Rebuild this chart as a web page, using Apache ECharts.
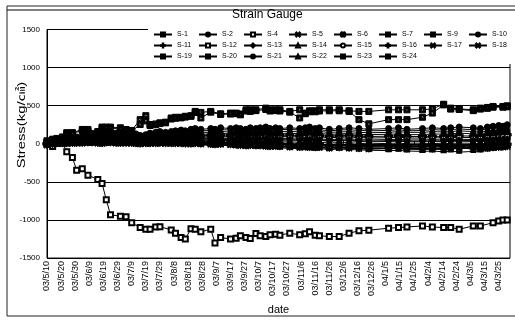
<!DOCTYPE html>
<html>
<head>
<meta charset="utf-8">
<script src="https://cdn.jsdelivr.net/npm/echarts@6/dist/echarts.min.js"></script>
<style>
  html, body { margin: 0; padding: 0; background: #fff; }
  #chart { width: 515px; height: 320px; }
</style>
</head>
<body>
<div id="chart"></div>
<script>
// Reading dates shared by every gauge
const readingDates = [
  '2003-05-10','2003-05-14','2003-05-17','2003-05-21','2003-05-24','2003-05-28','2003-05-31','2003-06-04',
  '2003-06-08','2003-06-11','2003-06-15','2003-06-18','2003-06-21','2003-06-24','2003-06-28','2003-07-01',
  '2003-07-05','2003-07-09','2003-07-12','2003-07-15','2003-07-19','2003-07-22','2003-07-26','2003-07-29',
  '2003-08-02','2003-08-06','2003-08-09','2003-08-13','2003-08-16','2003-08-20','2003-08-23','2003-08-27',
  '2003-09-03','2003-09-06','2003-09-10','2003-09-17','2003-09-21','2003-09-24','2003-09-28','2003-10-01',
  '2003-10-05','2003-10-08','2003-10-12','2003-10-15','2003-10-19','2003-10-22','2003-10-29','2003-11-05',
  '2003-11-09','2003-11-12','2003-11-16','2003-11-19','2003-11-26','2003-12-03','2003-12-10','2003-12-17',
  '2003-12-24','2004-01-07','2004-01-14','2004-01-20','2004-01-31','2004-02-07','2004-02-15','2004-02-20',
  '2004-02-26','2004-03-07','2004-03-12','2004-03-17','2004-03-21','2004-03-25','2004-03-28','2004-03-31'
];

// Stress readings (kg/㎠); null = no reading on that date
const s1  = [20,50,60,80,130,140,null,170,175,null,150,200,205,210,null,190,175,165,null,253,300,240,250,265,275,325,335,340,350,360,410,339,415,null,385,390,395,380,430,425,435,null,450,430,435,430,415,339,395,420,420,430,433,433,425,317,262,317,317,317,348,403,510,455,450,435,455,465,480,null,480,485];
const s2  = [20,40,50,40,60,70,80,90,90,100,110,100,120,130,120,110,130,120,110,100,110,120,130,140,130,140,150,160,150,170,180,170,175,170,185,180,190,180,170,185,180,190,195,180,190,185,190,180,190,195,180,185,170,180,185,175,170,175,185,170,175,185,180,185,195,185,180,195,200,210,205,215];
const s4  = [20,-35,30,10,-103,-181,-348,-327,-412,null,-469,-520,-735,-933,null,-950,-959,-1036,null,-1100,-1121,-1121,-1092,-1088,null,-1130,-1173,-1230,-1250,-1114,-1121,-1156,-1121,-1302,-1230,-1250,-1240,-1208,-1230,-1242,-1178,-1208,-1217,-1195,-1186,-1199,-1173,-1195,-1180,-1156,-1199,-1208,-1217,-1217,-1173,-1143,-1134,-1108,-1100,-1092,-1079,-1092,-1100,-1100,-1121,-1079,-1079,null,-1036,-1014,-1001,-1001];
const s5  = [-10,0,0,5,5,10,10,10,15,15,10,5,15,15,10,10,10,10,5,0,5,5,5,10,5,5,5,5,0,0,5,0,-5,-10,-5,-10,-15,-20,-25,-20,-25,-25,-30,-35,-30,-35,-40,-45,-40,-45,-50,-45,-55,-50,-55,-60,-65,-60,-55,-65,-70,-65,-70,-60,-55,-60,-65,-55,-50,-45,-40,-35];
const s6  = [-20,-10,0,0,0,5,5,5,10,10,5,0,10,10,5,5,5,5,0,-5,0,0,0,5,0,0,0,0,-5,-5,0,-5,-10,-15,-10,-15,-20,-25,-30,-25,-30,-30,-35,-40,-35,-40,-45,-50,-45,-50,-55,-50,-60,-55,-60,-65,-70,-65,-60,-70,-75,-70,-75,-65,-60,-65,-70,-60,-55,-50,-45,-40];
const s7  = [40,60,70,90,146,146,null,188,188,null,160,219,219,219,null,210,188,175,null,317,369,253,260,275,284,339,348,348,361,369,425,412,425,null,394,403,403,391,446,446,446,null,468,446,446,446,425,446,403,433,433,446,446,446,433,425,425,446,446,446,446,459,519,468,459,446,468,477,490,null,490,498];
const s9  = [0,20,30,20,30,40,50,50,60,60,70,60,70,80,70,70,80,80,70,60,70,75,80,90,85,90,95,100,95,105,110,105,110,105,115,110,115,110,105,115,110,115,120,110,115,110,115,105,110,115,105,110,100,105,110,100,95,100,105,95,95,100,95,100,105,100,95,105,110,115,115,120];
const s10 = [30,50,60,50,70,80,90,100,110,120,130,120,140,150,140,130,150,150,130,110,120,140,150,160,150,160,170,180,170,190,200,190,200,190,210,200,210,200,190,210,200,210,220,200,210,200,210,200,210,220,200,210,190,200,210,200,190,200,210,190,200,210,200,210,220,210,200,220,230,240,230,250];
const s11 = [0,10,20,20,30,30,35,35,40,40,40,35,45,45,40,40,45,45,40,35,40,40,45,45,40,45,45,50,45,50,50,45,45,40,45,40,40,35,30,35,30,35,35,25,30,25,25,20,25,25,15,20,10,15,15,5,0,5,10,0,0,5,0,5,10,5,0,10,15,20,20,25];
const s12 = [0,10,20,20,30,30,40,40,50,50,55,50,60,65,60,60,65,65,60,55,60,65,70,75,70,75,80,85,80,90,90,85,90,85,95,90,95,90,85,95,90,95,100,90,95,90,95,85,90,95,85,90,80,85,90,80,75,80,85,75,75,80,75,80,85,80,75,85,90,95,95,100];
const s13 = [10,20,20,30,30,40,40,50,45,50,50,45,55,60,55,50,55,55,50,45,50,55,60,60,55,60,65,70,65,70,75,70,75,70,75,70,75,70,65,70,65,70,75,65,70,65,70,60,65,70,60,65,55,60,65,55,50,55,60,50,50,55,50,55,60,55,50,60,65,70,70,75];
const s14 = [0,10,10,15,20,20,25,25,30,30,30,25,30,35,30,25,30,30,25,20,25,25,25,30,25,25,30,30,25,25,30,25,20,15,20,15,15,10,5,10,5,5,5,-5,0,-5,-10,-15,-10,-10,-20,-15,-25,-20,-20,-30,-35,-30,-25,-35,-35,-30,-35,-30,-25,-30,-35,-25,-20,-15,-15,-10];
const s15 = [-10,0,10,10,10,15,15,20,20,20,20,15,20,25,20,15,20,20,15,10,15,15,15,20,15,15,20,20,15,15,20,15,10,5,10,5,5,0,-5,0,-5,-5,-5,-15,-10,-15,-20,-25,-20,-20,-30,-25,-35,-30,-30,-40,-45,-40,-35,-45,-45,-40,-45,-40,-35,-40,-45,-35,-30,-25,-25,-20];
const s16 = [10,30,20,30,40,40,50,50,55,60,60,55,65,70,65,60,65,65,60,55,60,60,65,65,60,65,70,70,65,70,70,65,65,60,65,60,65,60,55,60,55,60,60,50,55,50,50,45,50,50,40,45,35,40,40,30,25,30,35,25,25,30,25,30,35,30,25,35,40,45,45,50];
const s17 = [0,10,10,10,15,15,15,20,20,20,15,10,20,20,15,15,15,15,10,5,10,10,10,15,10,10,10,10,5,5,10,5,0,-5,0,-5,-10,-15,-20,-15,-20,-20,-25,-30,-25,-30,-35,-40,-35,-40,-45,-40,-50,-45,-50,-55,-60,-55,-50,-55,-60,-55,-60,-50,-45,-50,-55,-45,-40,-35,-30,-25];
const s18 = [-5,5,5,10,10,10,15,15,15,20,15,10,15,20,15,10,15,15,10,5,10,10,10,10,5,10,10,5,5,5,5,0,-5,-10,-5,-10,-15,-20,-20,-20,-25,-25,-30,-30,-30,-35,-40,-40,-40,-45,-45,-45,-50,-50,-50,-55,-60,-60,-55,-60,-65,-60,-65,-55,-50,-55,-60,-50,-45,-40,-35,-30];
const s19 = [0,10,10,20,20,25,25,30,30,30,30,25,35,35,30,30,30,30,25,20,25,25,30,30,25,30,30,30,25,30,30,25,25,20,25,20,20,15,10,15,10,15,10,5,10,5,0,-5,0,0,-10,-5,-15,-10,-10,-20,-25,-20,-15,-25,-25,-20,-25,-20,-15,-20,-25,-15,-10,-5,-5,0];
const s20 = [0,0,10,10,15,20,20,25,25,25,25,20,30,30,25,25,25,25,20,15,20,20,25,25,20,25,25,25,20,25,25,20,20,15,20,15,15,10,5,10,5,10,5,0,5,0,-5,-10,-5,-5,-15,-10,-20,-15,-15,-25,-30,-25,-20,-30,-30,-25,-30,-25,-20,-25,-30,-20,-15,-10,-10,-5];
const s21 = [10,30,40,30,50,60,60,70,80,80,90,80,100,110,100,90,110,100,90,80,90,100,110,120,110,120,130,140,130,150,155,150,150,145,160,155,165,155,150,160,155,165,170,155,160,160,165,155,165,170,155,160,150,155,160,150,145,150,160,150,150,160,155,160,170,160,155,170,175,180,180,190];
const s22 = [0,10,20,10,20,30,30,40,40,40,45,40,50,50,45,45,50,50,45,40,45,50,50,55,50,55,60,60,55,60,65,60,60,55,60,55,60,55,50,55,50,55,60,50,55,50,50,45,50,55,45,50,40,45,50,40,35,40,45,35,35,40,35,40,45,40,35,45,50,55,55,60];
const s23 = [10,20,30,40,40,50,60,60,70,70,80,70,90,90,80,80,90,90,80,70,80,90,90,100,100,110,110,120,110,130,130,125,130,125,135,130,140,130,125,135,130,140,145,130,135,135,140,130,140,145,130,135,125,130,135,125,120,125,130,120,120,130,125,130,140,130,125,135,140,145,150,155];
const s24 = [-10,0,0,0,5,5,5,5,10,5,5,0,5,5,0,0,0,0,-5,-10,-5,-5,-5,0,-5,-5,-5,-10,-10,-10,-10,-15,-20,-25,-20,-25,-30,-35,-40,-35,-40,-40,-45,-50,-50,-55,-60,-65,-60,-65,-70,-65,-75,-70,-75,-80,-85,-90,-85,-95,-100,-95,-105,-95,-110,-100,-95,-80,-70,-60,-55,-45];

const gaugeNames = ['S-1','S-2','S-4','S-5','S-6','S-7','S-9','S-10','S-11','S-12','S-13','S-14',
                    'S-15','S-16','S-17','S-18','S-19','S-20','S-21','S-22','S-23','S-24'];
const gaugeValues = [s1,s2,s4,s5,s6,s7,s9,s10,s11,s12,s13,s14,s15,s16,s17,s18,s19,s20,s21,s22,s23,s24];

const yTicks = { min: -1500, max: 1500, step: 500 };

// Marker shapes (black on a white chart)
const boxPlus  = 'path://M0,0H10V10H0Z M4,2V4H2V6H4V8H6V6H8V4H6V2Z';
const boxHole  = 'path://M0,0H10V10H0Z M3,3V7H7V3Z';
const plus     = 'path://M4,0H6V4H10V6H6V10H4V6H0V4H4Z';
const thinPlus = 'path://M4.5,0H5.5V4.5H10V5.5H5.5V10H4.5V5.5H0V4.5H4.5Z';
const cross    = 'path://M1,0L5,4L9,0L10,1L6,5L10,9L9,10L5,6L1,10L0,9L4,5L0,1Z';
const star     = 'path://M4.4,0H5.6V4.4H10V5.6H5.6V10H4.4V5.6H0V4.4H4.4Z M1,0L5,4L9,0L10,1L6,5L10,9L9,10L5,6L1,10L0,9L4,5L0,1Z';

const markerStyle = {
  'S-1':  [boxHole, 6],  'S-2':  ['circle', 4],   'S-4':  ['emptyRect', 5], 'S-5':  [cross, 5],
  'S-6':  [star, 6],     'S-7':  [boxPlus, 6],    'S-9':  ['rect', [6, 2]], 'S-10': ['circle', 6],
  'S-11': [thinPlus, 5], 'S-12': ['emptyRect', 5],'S-13': ['diamond', 5],   'S-14': ['emptyTriangle', 5],
  'S-15': ['emptyCircle', 5], 'S-16': [plus, 5],  'S-17': [cross, 4],       'S-18': [cross, 5],
  'S-19': ['rect', [5, 1.5]], 'S-20': ['rect', [6, 2]], 'S-21': ['circle', 4], 'S-22': ['triangle', 5],
  'S-23': ['rect', 5],   'S-24': ['rect', [4, 2]]
};

const ORIGIN = Date.UTC(2003, 4, 10);
const DAY = 86400000;
function dayNo(s) {
  const [y, m, d] = s.split('-').map(Number);
  return Math.round((Date.UTC(y, m - 1, d) - ORIGIN) / DAY);
}
function dateLabel(v) {
  const t = new Date(ORIGIN + v * DAY);
  const yy = String(t.getUTCFullYear() % 100).padStart(2, '0');
  return yy + '/' + (t.getUTCMonth() + 1) + '/' + t.getUTCDate();
}

const xDays = readingDates.map(dayNo);
const FONT = "'Liberation Sans', Arial, 'Noto Sans CJK KR', sans-serif";

const series = gaugeNames.map((name, k) => ({
  name,
  type: 'line',
  data: xDays.map((x, i) => [x, gaugeValues[k][i]]),
  connectNulls: true,
  symbol: markerStyle[name][0],
  symbolSize: markerStyle[name][1],
  showAllSymbol: true,
  color: '#000',
  lineStyle: { color: '#000', width: 1 },
  itemStyle: { color: '#000', borderColor: '#000', borderWidth: 1 }
}));

const chart = echarts.init(document.getElementById('chart'));
chart.setOption({
  animation: false,
  backgroundColor: '#fff',
  title: {
    text: 'Strain Gauge',
    left: 232, top: 9, padding: 0,
    textStyle: { fontFamily: FONT, fontSize: 12, fontWeight: 'normal', color: '#000' }
  },
  legend: {
    data: gaugeNames,
    left: 148, top: 26, width: 372,
    padding: [5, 5, 4, 5],
    backgroundColor: '#fff',
    itemWidth: 18, itemHeight: 5, itemGap: 4,
    textStyle: { fontFamily: FONT, fontSize: 7, color: '#000', width: 17, lineHeight: 7 }
  },
  grid: {
    left: 47, right: 5, top: 29.5, bottom: 58,
    show: true, borderColor: '#000', borderWidth: 1
  },
  xAxis: {
    type: 'value',
    min: 0, max: 328, interval: 10,
    name: 'date', nameLocation: 'middle', nameGap: 42,
    nameTextStyle: { fontFamily: FONT, fontSize: 11, color: '#000' },
    axisLine: { lineStyle: { color: '#000' } },
    axisTick: { show: true, inside: true, length: 3, lineStyle: { color: '#000' } },
    splitLine: { show: false },
    axisLabel: {
      rotate: 90, fontFamily: FONT, fontSize: 9, color: '#000', margin: 3,
      showMaxLabel: false, formatter: dateLabel
    }
  },
  yAxis: {
    type: 'value',
    min: yTicks.min, max: yTicks.max, interval: yTicks.step,
    axisLine: { show: true, lineStyle: { color: '#000' } },
    axisTick: { show: false },
    splitLine: { lineStyle: { color: '#000', width: 1 } },
    axisLabel: { fontFamily: FONT, fontSize: 8, color: '#000', margin: 7, formatter: v => String(v) }
  },
  graphic: [
    { type: 'rect', shape: { x: 7, y: 6, width: 520, height: 310 }, style: { fill: 'none', stroke: '#222', lineWidth: 1 }, silent: true },
    { type: 'line', shape: { x1: 7, y1: 10, x2: 515, y2: 10 }, style: { stroke: '#000', lineWidth: 1 }, silent: true },
    { type: 'text', x: 22, y: 125, rotation: Math.PI / 2, scaleX: 1.35,
      style: { text: 'Stress(kg/㎠)', fontFamily: FONT, fontSize: 11, fill: '#000', textAlign: 'center', textVerticalAlign: 'middle' } }
  ],
  series
});
</script>
</body>
</html>
